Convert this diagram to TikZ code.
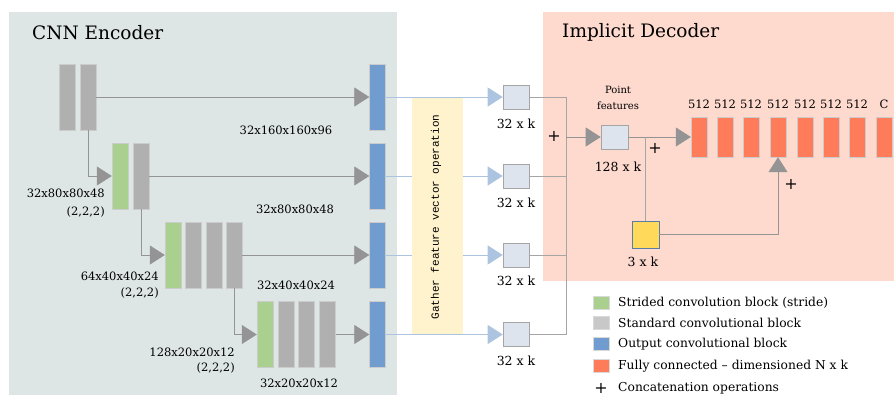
\documentclass[tikz,border=0pt]{standalone}
\usepackage{fontspec}
\setmainfont{DejaVu Serif}
\newfontfamily\gathfont{Liberation Mono}
\usetikzlibrary{arrows.meta}
\definecolor{encbg}{RGB}{222,230,229}
\definecolor{decbg}{RGB}{253,217,206}
\definecolor{gathbg}{RGB}{255,243,206}
\definecolor{stdgray}{RGB}{176,176,176}
\definecolor{strgreen}{RGB}{169,208,142}
\definecolor{outblue}{RGB}{112,156,208}
\definecolor{fcorange}{RGB}{255,124,90}
\definecolor{featfill}{RGB}{222,228,238}
\definecolor{xyzfill}{RGB}{255,217,90}
\definecolor{linegray}{RGB}{165,165,165}
\definecolor{lineblue}{RGB}{172,196,224}
\tikzset{
    block/.style={rectangle,inner sep=0,minimum width=16,minimum height=66,draw=black!20,line width=0.4pt},
    stdblock/.style={block,fill=stdgray},
    strblock/.style={block,fill=strgreen},
    outblock/.style={block,fill=outblue},
    fcblock/.style={block,fill=fcorange,minimum height=40},
    featbox/.style={rectangle,inner sep=0,minimum width=26,minimum height=24,fill=featfill,draw=linegray,line width=0.6pt},
    legbox/.style={rectangle,inner sep=0,minimum width=16,minimum height=13,draw=black!15},
    dimlabel/.style={font=\fontsize{11.5}{13}\selectfont,inner sep=0},
    klabel/.style={font=\fontsize{12.5}{14}\selectfont,inner sep=0},
    leglabel/.style={font=\fontsize{12.3}{14}\selectfont,inner sep=0,anchor=west},
    plus/.style={font=\fontsize{16}{16}\selectfont,inner sep=0,text height=10pt,text depth=0pt},
    small/.style={font=\fontsize{10}{11}\selectfont,inner sep=0},
    title/.style={font=\fontsize{18.5}{20}\selectfont,inner sep=0,anchor=west},
    gline/.style={draw=linegray,line width=0.8pt},
    garrow/.style={gline,-{Triangle[length=15,width=19]},color=linegray!90!black},
    barrow/.style={draw=lineblue,line width=0.8pt,-{Triangle[length=15,width=19]}}
}
\begin{document}
\begin{tikzpicture}[x=1pt,y=-1pt]
        \useasboundingbox (0,0) rectangle (894,396);
        %% Backgrounds
        \fill[encbg] (9,12) rectangle (397,395);
        \fill[decbg] (543,12) rectangle (894,281);
        \node[title] (enc) at (32,33) {CNN Encoder};
        \node[title] (dec) at (562,32) {Implicit Decoder};
        %% Encoder blocks
        \node[stdblock] (g11) at (67.5,97) {};
        \node[stdblock] (g12) at (88,97) {};
        \node[outblock] (b1) at (377.5,97) {};
        \node[strblock] (s2) at (120,176) {};
        \node[stdblock] (g21) at (141,176) {};
        \node[outblock] (b2) at (377.5,176) {};
        \node[strblock] (s3) at (173,255) {};
        \node[stdblock] (g31) at (193.5,255) {};
        \node[stdblock] (g32) at (214,255) {};
        \node[stdblock] (g33) at (234,255) {};
        \node[outblock] (b3) at (377.5,255) {};
        \node[strblock] (s4) at (265,334.5) {};
        \node[stdblock] (g41) at (286,334.5) {};
        \node[stdblock] (g42) at (306.5,334.5) {};
        \node[stdblock] (g43) at (327.5,334.5) {};
        \node[outblock] (b4) at (377.5,334.5) {};
        %% Encoder connectors
        \draw[garrow] (g12.east) -- (b1.west);
        \draw[garrow] (g21.east) -- (b2.west);
        \draw[garrow] (g33.east) -- (b3.west);
        \draw[garrow] (g43.east) -- (b4.west);
        \draw[garrow] (g12.south) |- (s2.west);
        \draw[garrow] (g21.south) |- (s3.west);
        \draw[garrow] (g33.south) |- (s4.west);
        %% Encoder labels
        \node[dimlabel] (d1) at (286,130) {32x160x160x96};
        \node[dimlabel,anchor=east] (d2a) at (105,193) {32x80x80x48};
        \node[dimlabel,anchor=east] (d2b) at (105,212) {(2,2,2)};
        \node[dimlabel] (d2) at (295,209) {32x80x80x48};
        \node[dimlabel,anchor=east] (d3a) at (159,276) {64x40x40x24};
        \node[dimlabel,anchor=east] (d3b) at (159,293) {(2,2,2)};
        \node[dimlabel] (d3) at (296,285) {32x40x40x24};
        \node[dimlabel,anchor=east] (d4a) at (235,352) {128x20x20x12};
        \node[dimlabel,anchor=east] (d4b) at (235,368) {(2,2,2)};
        \node[dimlabel] (d4) at (299,383) {32x20x20x12};
        %% Gathered features
        \node[featbox] (f1) at (516,97) {};
        \node[featbox] (f2) at (516,176) {};
        \node[featbox] (f3) at (516,255) {};
        \node[featbox] (f4) at (516,334.5) {};
        \draw[barrow] (b1.east) -- (f1.west);
        \draw[barrow] (b2.east) -- (f2.west);
        \draw[barrow] (b3.east) -- (f3.west);
        \draw[barrow] (b4.east) -- (f4.west);
        \node[rectangle,fill=gathbg,minimum width=51,minimum height=236,inner sep=0] (gath) at (437.5,216) {};
        \node[rotate=90,inner sep=0,font=\gathfont\fontsize{11}{12}\selectfont] (gtext) at (436,217) {Gather feature vector operation};
        \node[klabel] (k1) at (516,124) {32 x k};
        \node[klabel] (k2) at (516,203) {32 x k};
        \node[klabel] (k3) at (516,281) {32 x k};
        \node[klabel] (k4) at (516,361) {32 x k};
        %% Concatenation
        \coordinate (j) at (566,137);
        \draw[gline] (f1.east) -| (j);
        \draw[gline] (f4.east) -| (j);
        \draw[gline] (f2.east) -- (f2.east -| j);
        \draw[gline] (f3.east) -- (f3.east -| j);
        \node[plus] (p1) at (554,136) {+};
        \node[featbox,minimum width=27] (pf) at (614.5,137) {};
        \draw[garrow] (j) -- (pf.west);
        \node[small] (pt) at (618,90) {Point};
        \node[small] (ft) at (618,106) {features};
        \node[klabel] (k5) at (618,167) {128 x k};
        %% Fully connected layers
        \foreach \i/\x/\t in {1/699/512,2/725/512,3/751/512,4/778/512,5/805/512,6/831/512,7/857/512,8/884/C}{
            \node[fcblock] (fc\i) at (\x,137) {};
            \node[dimlabel] (n\i) at (\x,104) {\t};
        }
        \draw[garrow] (pf.east) -- (fc1.west);
        \node[featbox,fill=xyzfill,draw=outblue!80!black,minimum width=27,minimum height=27] (xyz) at (645.5,234.5) {};
        \node[klabel] (k6) at (643,262) {3 x k};
        \draw[gline] (xyz.north) -- (xyz.north |- pf.east);
        \node[plus] (p2) at (655,148) {+};
        \draw[garrow] (xyz.east) -| (fc4.south);
        \node[plus] (p3) at (791,184) {+};
        %% Legend
        \node[legbox,fill=strgreen] (l1) at (601,303) {};
        \node[legbox,fill=stdgray!70] (l2) at (601,323) {};
        \node[legbox,fill=outblue] (l3) at (601,344) {};
        \node[legbox,fill=fcorange] (l4) at (601,366) {};
        \node[plus] (l5) at (601,388) {+};
        \node[leglabel] (t1) at (618,303) {Strided convolution block (stride)};
        \node[leglabel] (t2) at (618,323) {Standard convolutional block};
        \node[leglabel] (t3) at (618,344) {Output convolutional block};
        \node[leglabel] (t4) at (618,366) {Fully connected – dimensioned N x k};
        \node[leglabel] (t5) at (618,388) {Concatenation operations};
\end{tikzpicture}
\end{document}
